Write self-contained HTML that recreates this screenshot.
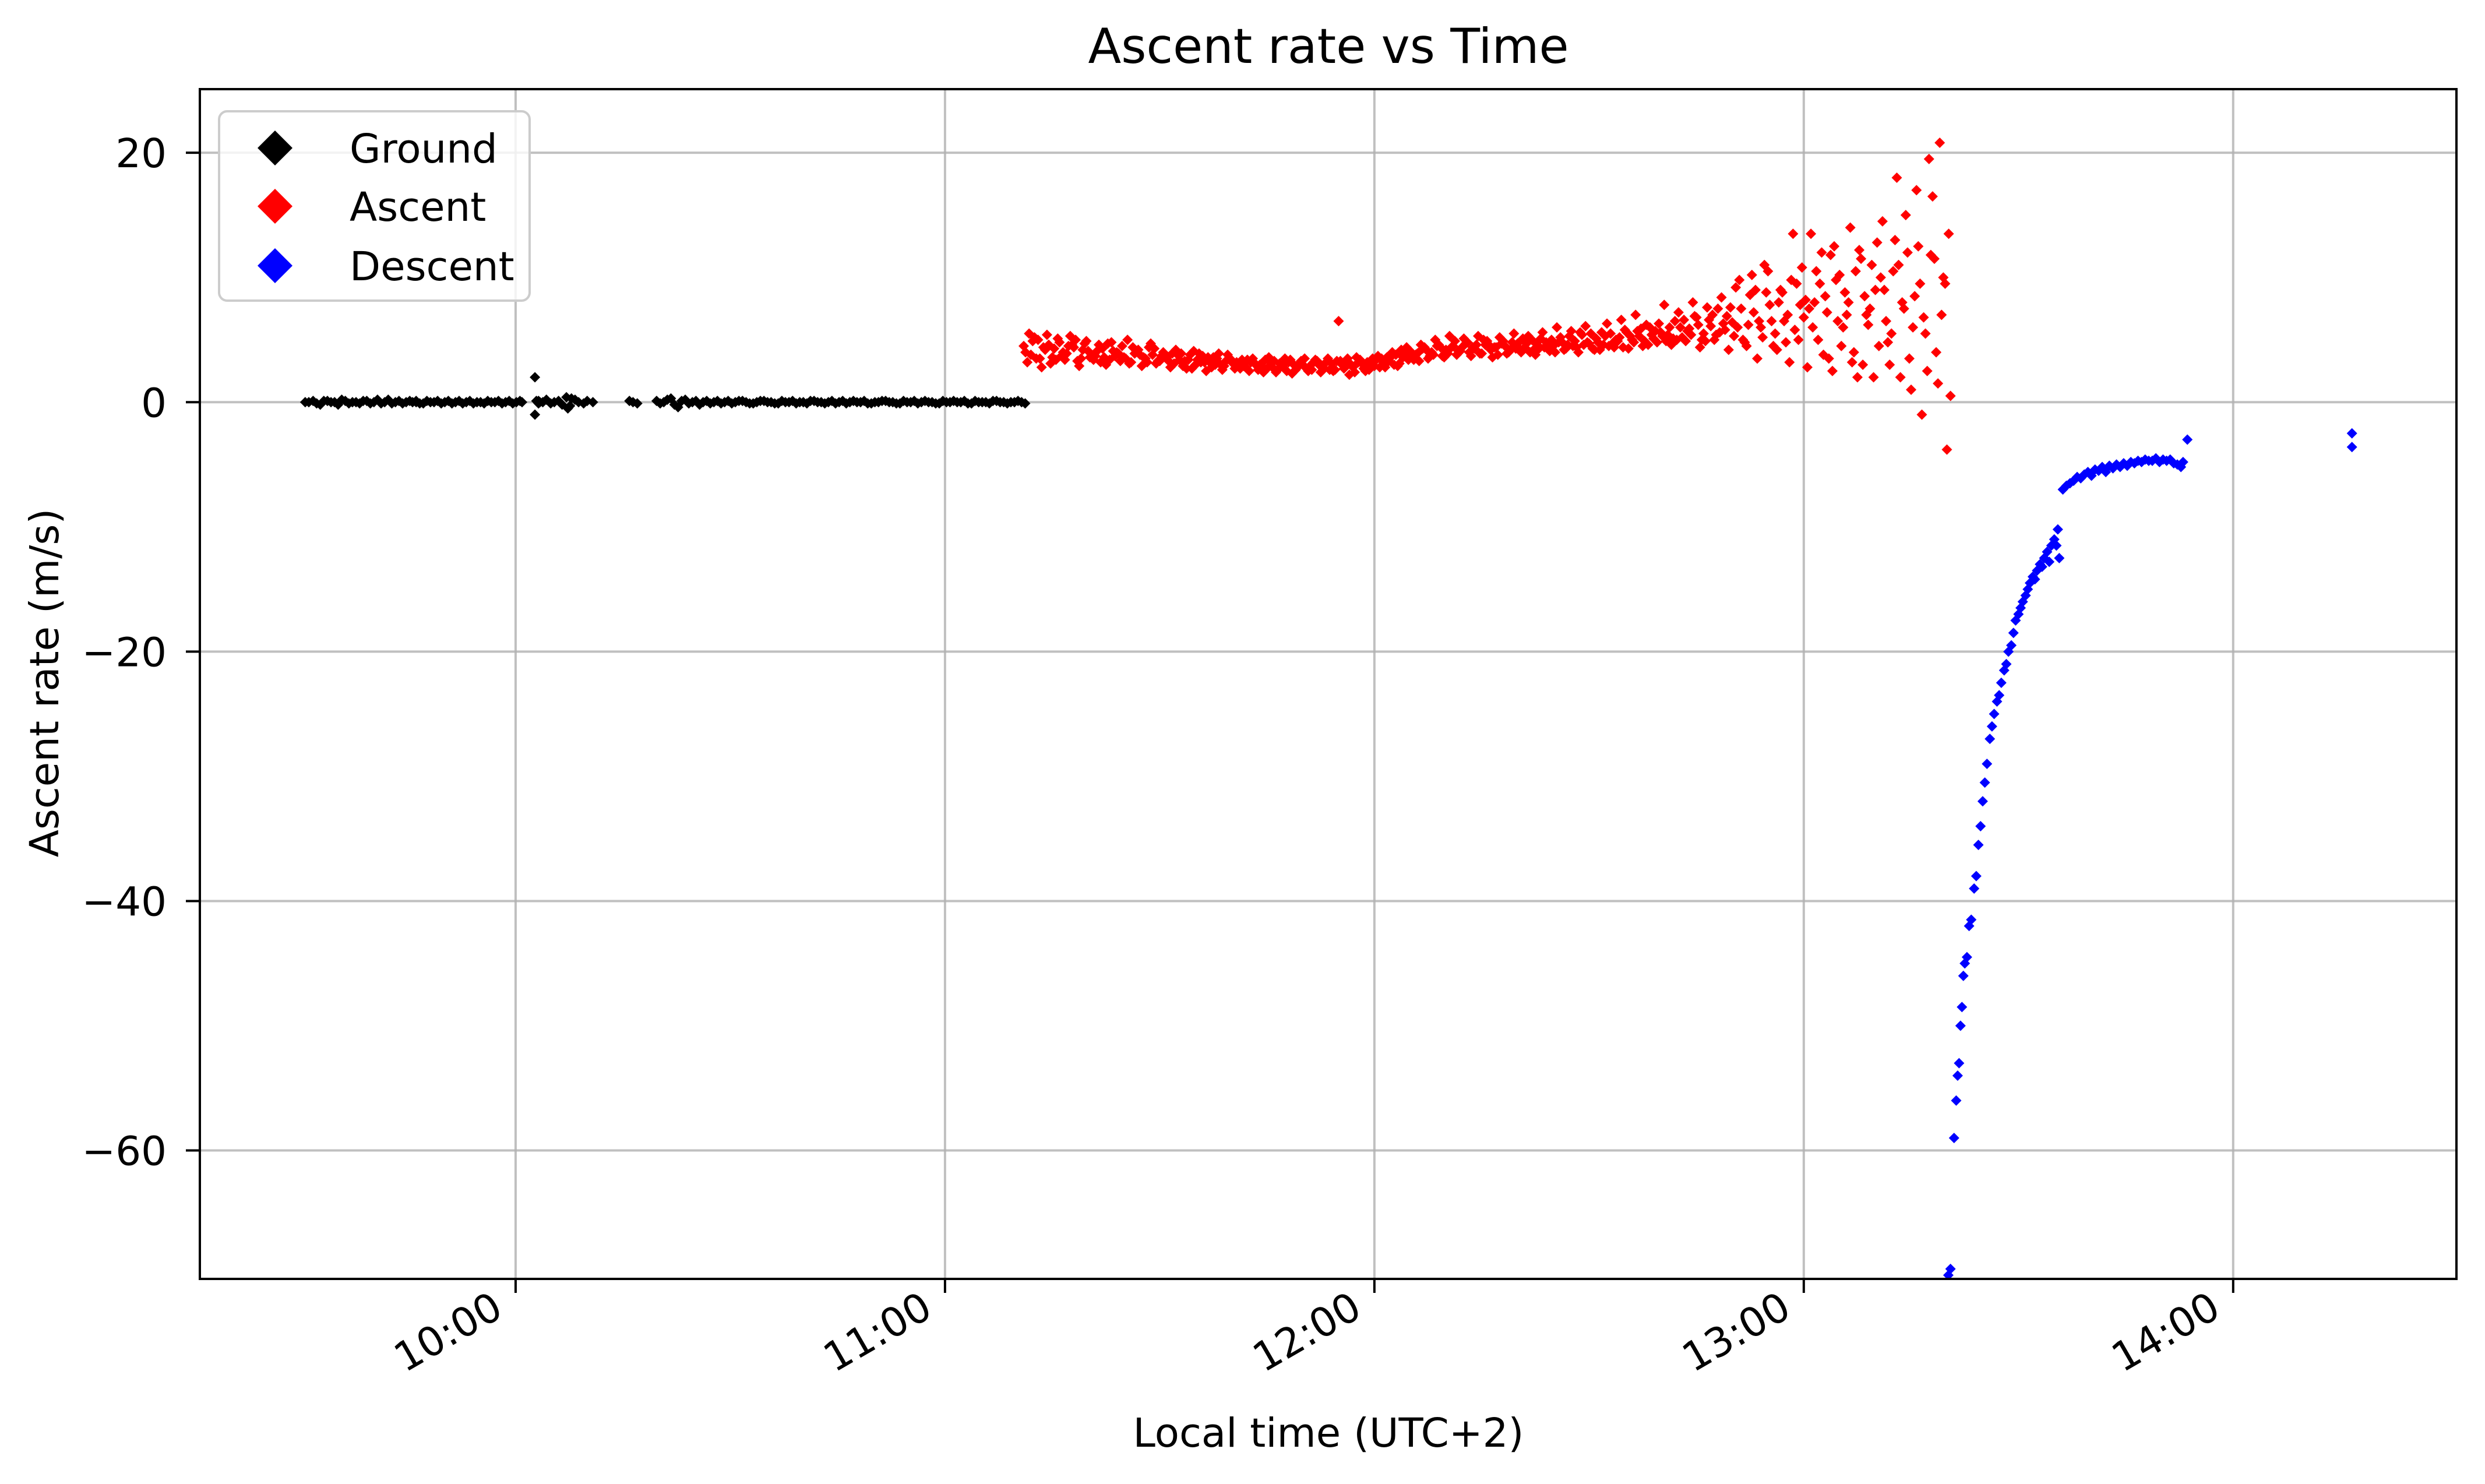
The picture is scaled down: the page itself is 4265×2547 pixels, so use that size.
<!DOCTYPE html>
<html><head><meta charset="utf-8"><title>Ascent rate vs Time</title>
<style>html,body{margin:0;padding:0;background:#fff}svg{display:block}text{font-family:"DejaVu Sans","Liberation Sans",sans-serif;fill:#000}</style>
</head><body>
<svg id="chart" xmlns="http://www.w3.org/2000/svg" width="4265" height="2547" viewBox="0 0 4265 2547">
<rect width="4265" height="2547" fill="#fff"/>
<g id="grid"></g>
<g id="marks"></g>
<g id="axes"></g>
<text x="2280" y="108" font-size="83" text-anchor="middle">Ascent rate vs Time</text>
<text x="2280" y="2483" font-size="69" text-anchor="middle">Local time (UTC+2)</text>
<text transform="translate(100,1172) rotate(-90)" font-size="69" text-anchor="middle">Ascent rate (m/s)</text>
<g>
<rect x="376" y="191" width="533" height="325" rx="14" fill="#fff" fill-opacity="0.8" stroke="#cccccc" stroke-width="4"/>
<g><path d="M472 224 L502 254 L472 284 L442 254 Z" fill="#000"/><text x="600" y="279" font-size="69">Ground</text></g>
<g><path d="M472 324 L502 354 L472 384 L442 354 Z" fill="#f00"/><text x="600" y="379" font-size="69">Ascent</text></g>
<g><path d="M472 426 L502 456 L472 486 L442 456 Z" fill="#00f"/><text x="600" y="481" font-size="69">Descent</text></g>
</g>
</svg>
<script>
// minutes after 09:00
const groundT = [30.6,31.7,32.7,33.7,34.7,35.7,36.7,37.7,38.7,39.7,40.7,41.7,42.7,43.7,44.7,45.6,46.1,47.1,48.1,49.1,50.1,51.1,52.1,53.1,54.1,55.1,56.1,57.1,58.1,59.1,60.1,60.9,62.7,62.7,62.9,63.8,64.9,66.0,67.1,67.3,68.3,69.5,70.8,75.9,77.0,79.7,80.7,81.7,82.7,83.7,84.7,85.7,86.7,87.7,88.7,89.7,90.7,91.7,92.7,93.7,94.7,95.7,96.7,97.7,98.7,99.7,100.7,101.7,102.7,103.7,104.7,105.7,106.7,107.7,108.7,109.7,110.7,111.7,112.7,113.7,114.7,115.7,116.7,117.7,118.7,119.7,120.7,121.7,122.7,123.7,124.7,125.7,126.7,127.7,128.7,129.7,130.7,131.2];
const groundV = [0,0.1,-0.2,0.1,0,0.2,-0.1,0,0.1,-0.1,0.2,0,-0.1,0.1,0,0,0.1,-0.1,0,0.1,0,-0.1,0.1,0,-0.1,0,0.1,0,-0.1,0.1,0,0,2.0,-1.0,0.1,0,-0.1,0.1,0.4,-0.5,0.2,-0.1,0,0.1,-0.1,0.1,0,0.3,-0.4,0.2,0,-0.2,0.1,0,-0.1,0.1,0,0.1,-0.1,0,0.1,0,-0.1,0,0.1,0,-0.1,0.1,0,0,-0.1,0.1,0,0,0.1,-0.1,0,0.1,0,-0.1,0,0.1,0,0,-0.1,0.1,0,0,0.1,-0.1,0,0,0.1,0,-0.1,0,0];
const groundV2 = [0,-0.1,0.1,0,-0.2,0.1,0,-0.1,0.1,0,-0.1,0.2,0,-0.1,0.1,0,-0.1,0.1,0,-0.1,0.1,0,-0.1,0.1,0,-0.1,0,0.1,0,-0.1,0.1,0,0.1,-0.1,0,0.2,0,-0.2,-0.3,0.3,0,0.1,-0.1,0,0.1,-0.1,0.2,-0.2,0.1,-0.1,0.1,0,-0.1,0.1,0,-0.1,0.1,0,-0.1,0.1,0,-0.1,0.1,0,-0.1,0,0.1,0,-0.1,0.1,0,-0.1,0.1,0,-0.1,0,0.1,0,-0.1,0.1,0,-0.1,0.1,0,-0.1,0,0.1,0,-0.1,0.1,0,-0.1,0.1,0,0,0.1,-0.1,0];
const ascentT = [131,132,133,134,135,136,137,138,139,140,141,142,143,144,145,146,147,148,149,150,151,152,153,154,155,156,157,158,159,160,161,162,163,164,165,166,167,168,169,170,171,172,173,174,175,176,177,178,179,180,181,182,183,184,185,186,187,188,189,190,191,192,193,194,195,196,197,198,199,200,201,202,203,204,205,206,207,208,209,210,211,212,213,214,215,216,217,218,219,220,221,222,223,224,225,226,227,228,229,230,231,232,233,234,235,236,237,238,239,240,241,242,243,244,245,246,247,248,249,250,251,252,253,254,255,256,257,258,259,260];
const ascentA = [4.5,3.8,5.0,4.2,3.6,4.8,3.9,4.4,3.5,4.1,3.7,4.3,3.4,4.0,3.6,3.2,4.2,3.5,3.8,3.3,3.6,3.1,3.9,3.4,3.0,3.7,3.2,3.5,2.9,3.4,3.1,2.8,3.5,3.0,2.7,3.3,2.9,3.2,2.6,3.0,2.9,3.3,2.7,3.1,6.5,3.0,2.8,3.4,3.2,2.9,3.5,3.3,3.8,3.6,4.1,3.9,4.4,4.0,4.6,4.2,4.5,4.1,4.8,4.3,3.9,4.6,4.4,4.9,4.2,4.7,4.4,5.0,4.3,4.8,4.5,5.2,4.6,4.9,5.4,4.7,5.1,4.6,5.5,4.9,5.8,5.0,5.3,6.2,5.1,5.6,5.4,6.5,5.2,5.9,6.8,5.5,6.1,7.5,5.8,6.4,9.8,4.5,7.2,6.0,10.5,5.5,8.8,3.2,9.5,6.8,13.5,5.0,8.5,2.5,10.2,7.0,4.0,11.5,6.2,9.0,14.5,3.0,18.0,7.5,1.0,12.5,5.5,16.5,20.8,-3.8];
const ascentB = [3.2,5.2,2.8,4.6,3.4,4.0,5.3,3.3,4.7,3.8,4.6,3.0,4.1,3.3,5.0,3.9,2.9,4.4,3.1,4.0,2.8,3.8,3.3,2.7,3.9,2.5,3.6,3.0,3.8,2.7,3.4,2.5,3.0,2.4,3.2,2.6,3.5,2.3,3.1,2.7,3.2,2.4,3.5,2.6,3.0,2.2,3.6,2.7,3.0,3.7,2.8,4.0,3.1,4.4,3.4,4.6,3.5,5.0,3.7,5.3,3.8,5.1,3.7,5.3,4.6,3.6,5.2,3.9,5.5,4.0,5.3,3.8,5.6,4.1,6.0,4.2,5.7,4.0,6.1,4.3,4.2,6.3,4.4,6.6,4.3,7.0,4.5,6.0,4.8,7.8,4.6,7.2,4.9,8.0,4.4,7.6,5.0,8.4,4.2,9.2,5.0,8.6,3.5,11.0,6.5,8.0,4.8,13.5,7.8,2.8,8.0,12.0,3.5,9.8,6.0,14.0,2.0,8.5,11.0,4.5,6.5,10.5,2.0,12.0,8.5,-1.0,19.5,4.0,10.0,0.5];
const ascentC = [4.0,4.9,3.5,5.4,4.3,3.7,4.5,5.0,4.2,3.6,4.1,3.6,4.8,3.9,3.5,4.4,3.8,3.2,4.3,3.7,3.3,4.2,2.9,3.8,3.4,3.2,2.8,3.9,3.3,3.1,2.7,3.4,3.1,2.9,3.6,2.4,3.0,3.4,2.8,3.5,2.6,3.0,3.2,2.5,3.3,3.5,2.4,3.1,2.6,3.4,3.2,3.6,2.9,3.9,3.7,3.3,4.2,3.8,4.4,3.9,4.9,4.4,4.0,4.6,5.0,4.2,3.8,4.5,4.8,4.3,4.7,4.2,5.1,4.5,4.0,4.8,5.3,4.4,4.6,5.5,4.8,5.3,4.7,5.2,5.6,4.8,5.9,4.6,5.7,5.3,6.0,5.0,6.6,5.4,6.2,4.9,7.0,5.6,6.9,5.3,7.5,6.2,9.0,5.2,7.8,4.2,6.5,9.8,5.0,8.2,6.0,9.5,7.2,12.5,4.5,8.0,10.5,3.0,7.5,12.8,9.0,5.5,11.0,15.0,6.0,9.5,2.5,11.5,7.0,13.5];
const ascentD = [5.5,3.5,4.4,3.1,5.1,3.4,4.6,2.9,4.9,3.4,3.2,4.7,3.7,4.5,3.1,4.1,3.6,4.7,3.3,3.6,3.9,3.4,2.7,4.1,3.2,3.6,3.0,2.6,3.5,3.2,2.9,3.2,2.6,3.4,2.8,3.1,2.5,3.0,3.3,2.5,3.4,2.8,2.6,3.3,2.7,3.0,3.2,2.5,3.5,2.8,3.6,3.0,4.2,3.4,3.8,4.3,3.7,4.5,3.6,4.4,4.1,4.7,4.4,3.9,4.9,4.4,4.7,4.0,4.3,5.1,4.0,4.6,4.4,5.0,4.8,4.3,4.5,5.6,4.8,4.2,5.6,4.5,5.0,4.4,5.3,5.7,4.9,5.4,6.3,4.9,5.1,6.0,5.7,6.9,5.0,6.6,5.4,6.3,7.6,6.0,4.8,10.2,6.5,8.8,4.5,9.0,7.0,5.8,10.8,7.5,10.5,3.8,11.8,6.5,8.8,3.2,12.2,7.0,2.0,10.0,4.8,13.0,8.0,3.5,17.0,6.8,11.8,1.5,9.5,5.0];
const descentT = [260.2,260.5,261.0,261.3,261.5,261.7,261.9,262.1,262.3,262.5,262.8,263.1,263.4,263.8,264.1,264.4,264.7,265.0,265.3,265.6,266.0,266.3,266.6,267.0,267.3,267.6,268.0,268.3,268.6,269.0,269.3,269.6,270.0,270.3,270.6,271.0,271.3,271.6,272.0,272.3,272.6,273.0,273.3,273.6,274.0,274.3,274.6,275.0,275.3,275.5,275.7,276.2,276.7,277.2,277.7,278.2,278.7,279.2,279.7,280.2,280.7,281.2,281.7,282.2,282.7,283.2,283.7,284.2,284.7,285.2,285.7,286.2,286.7,287.2,287.7,288.2,288.7,289.2,289.7,290.2,290.7,291.2,291.7,292.2,292.7,293.0,293.6,316.6,316.6];
const descentV = [-70,-69.5,-59,-56,-54,-53,-50,-48.5,-46,-45,-44.5,-42,-41.5,-39,-38,-35.5,-34,-32,-30.5,-29,-27,-26,-25,-24,-23.5,-22.5,-21.5,-21,-20,-19.5,-18.5,-17.5,-17,-16.5,-16,-15.5,-15,-14.5,-14,-14.2,-13.5,-13,-13.2,-12.5,-12,-12.8,-11.5,-11,-11.5,-10.2,-12.5,-7,-6.7,-6.5,-6.3,-6.0,-6.1,-5.8,-5.6,-5.9,-5.4,-5.5,-5.2,-5.6,-5.1,-5.3,-5.0,-5.2,-4.9,-5.1,-4.8,-4.9,-4.7,-4.8,-4.6,-4.7,-4.7,-4.5,-4.8,-4.6,-4.7,-4.6,-4.9,-5.0,-5.2,-4.8,-3.0,-2.5,-3.6];
const xTicks = [10,11,12,13,14];
const xTickLabels = ["10:00","11:00","12:00","13:00","14:00"];
const yTicks = [20,0,-20,-40,-60];
const yTickLabels = ["20","0","\u221220","\u221240","\u221260"];

const L=343,R=4216,T=153,B=2195;
const X0=9.2646,X1=14.52,Y0=-70.3,Y1=25.1;
const NS="http://www.w3.org/2000/svg";
function xs(h){return L+(h-X0)/(X1-X0)*(R-L);}
function ys(v){return B-(v-Y0)/(Y1-Y0)*(B-T);}
function mk(tag,attrs,parent){const e=document.createElementNS(NS,tag);for(const k in attrs)e.setAttribute(k,attrs[k]);parent.appendChild(e);return e;}
const grid=document.getElementById('grid'),marks=document.getElementById('marks'),axes=document.getElementById('axes');
xTicks.forEach((h,i)=>{
  const x=xs(h);
  const g=mk('line',{x1:x,x2:x,y1:T,y2:B,stroke:'#b0b0b0','stroke-width':4,'stroke-opacity':0.8},grid);
  
  
  const t=mk('line',{x1:x,x2:x,y1:B,y2:B+24,stroke:'#000','stroke-width':4},axes);
  
  
  const lb=mk('text',{x:x-18,y:B+62,'font-size':69,'text-anchor':'end',transform:'rotate(-30 '+(x-18)+' '+(B+62)+')'},axes);
  lb.textContent=xTickLabels[i];
  
  
});
yTicks.forEach((v,i)=>{
  const y=ys(v);
  const g=mk('line',{x1:L,x2:R,y1:y,y2:y,stroke:'#b0b0b0','stroke-width':4,'stroke-opacity':0.8},grid);
  
  
  const t=mk('line',{x1:L-24,x2:L,y1:y,y2:y,stroke:'#000','stroke-width':4},axes);
  
  
  const lb=mk('text',{x:286,y:y+25,'font-size':69,'text-anchor':'end'},axes);
  lb.textContent=yTickLabels[i];
  
  
});
const fr=mk('rect',{x:L,y:T,width:R-L,height:B-T,fill:'none',stroke:'#000','stroke-width':4},axes);


const clip=mk('clipPath',{id:'pc'},marks);
mk('rect',{x:L,y:T,width:R-L,height:B-T},clip);
marks.setAttribute('clip-path','url(#pc)');
function pt(tm,v,color,name){
  const x=xs(9+tm/60),y=ys(v),s=9;
  const p=mk('path',{d:`M${x} ${y-s}L${x+s} ${y}L${x} ${y+s}L${x-s} ${y}Z`,fill:color},marks);
  
  
}
groundT.forEach((t,i)=>{pt(t,groundV[i],'#000','ground-point');if(groundT[i+1]!==undefined&&groundT[i+1]-t<1.5)pt(t+0.5,groundV2[i],'#000','ground-point');});
ascentT.forEach((t,i)=>{
  pt(t,ascentA[i],'#f00','ascent-point');
  pt(t+0.25,ascentC[i],'#f00','ascent-point');
  pt(t+0.5,ascentB[i],'#f00','ascent-point');
  if(t<260)pt(t+0.75,ascentD[i],'#f00','ascent-point');
});
descentT.forEach((t,i)=>pt(t,descentV[i],'#00f','descent-point'));
</script>
</body></html>
